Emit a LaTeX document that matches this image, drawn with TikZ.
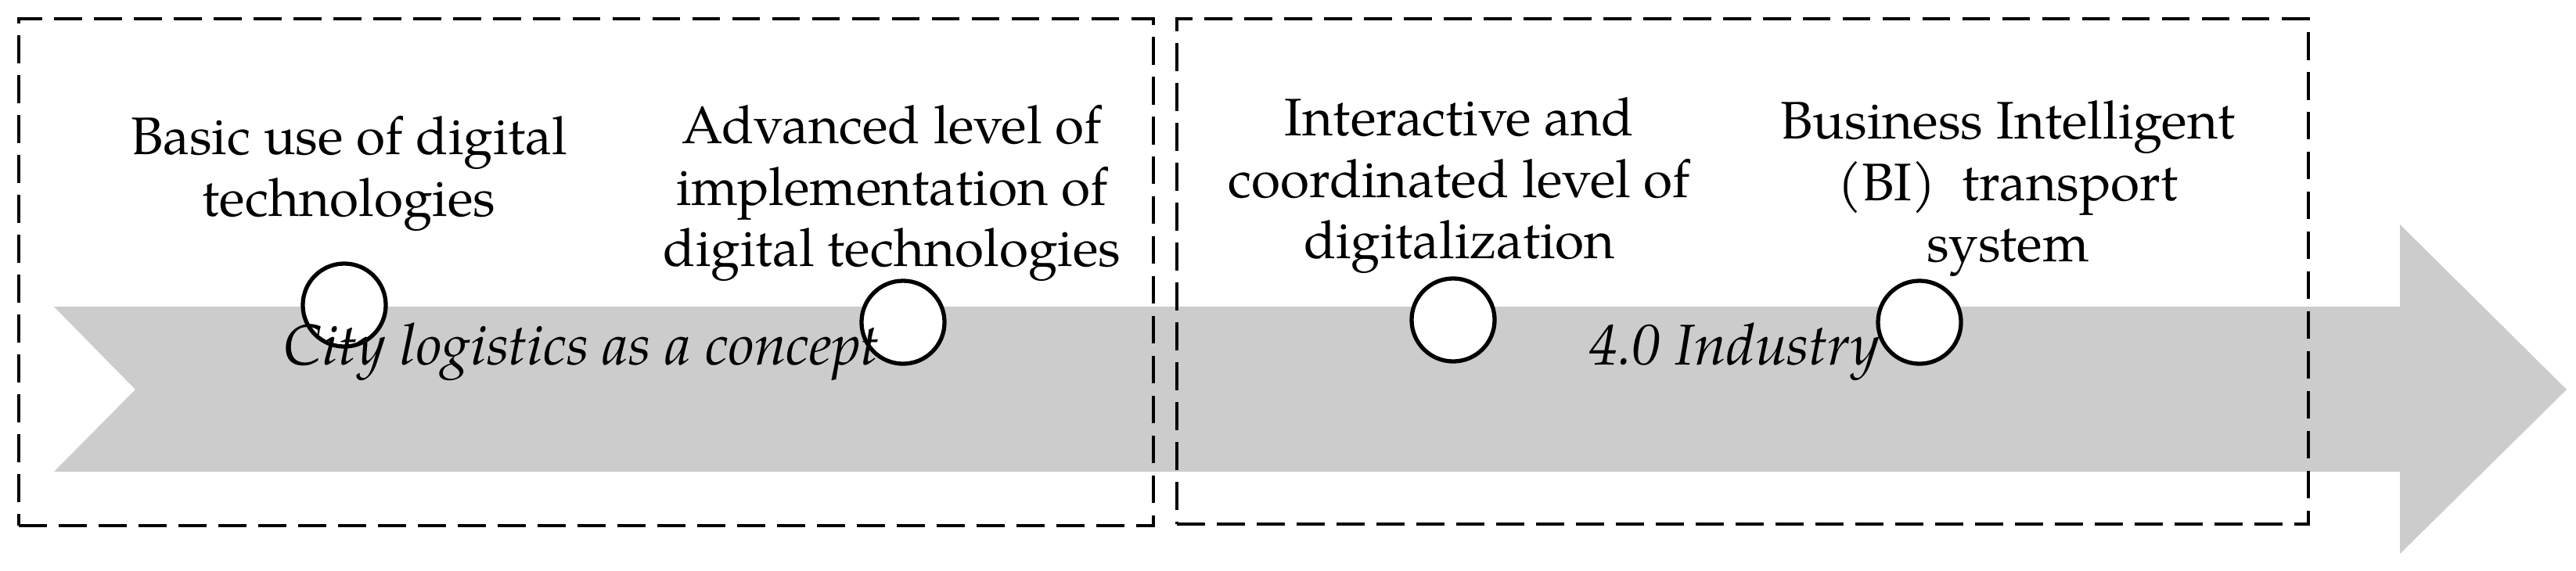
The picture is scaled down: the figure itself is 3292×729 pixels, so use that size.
\documentclass[tikz,border=0pt]{standalone}
\usepackage{fontspec}
\setmainfont{TeX Gyre Pagella}
\begin{document}
\begin{tikzpicture}[x=0.01cm,y=-0.01cm,
  boxstyle/.style={draw=black,line width=1.1pt,dash pattern=on 10.2pt off 4.3pt},
  milestone/.style={circle,draw=black,fill=white,line width=1.5pt,minimum size=1.06cm,inner sep=0pt},
  label/.style={align=center,inner sep=0pt,anchor=north,font=\fontsize{19.2}{22.3}\selectfont},
  phase/.style={inner sep=0pt,anchor=base west,font=\fontsize{20.9}{22}\selectfont\itshape}]
\useasboundingbox (0,0) rectangle (3292,729);
\fill[white] (0,0) rectangle (3292,729);
% big arrow
\fill[gray!40] (69,392) -- (3067,392) -- (3067,287) -- (3280,498) -- (3067,708) -- (3067,603) -- (69,603) -- (173,498) -- cycle;
% dashed boxes
\node[boxstyle,minimum width=14.49cm,minimum height=6.48cm,anchor=north west] (boxA) at (22,22) {};
\node[boxstyle,minimum width=14.45cm,minimum height=6.46cm,anchor=north west] (boxB) at (1502,22) {};
% circles
\node[milestone] (c1) at (440,390) {};
\node[milestone] (c2) at (1154,412) {};
\node[milestone] (c3) at (1857,409) {};
\node[milestone] (c4) at (2453,412) {};
% labels
\node[label] (t1) at (446,148) {Basic use of digital\\technologies};
\node[label] (t2) at (1140,134) {Advanced level of\\implementation of\\digital technologies};
\node[label] (t3) at (1865,124) {Interactive and\\coordinated level of\\digitalization};
\node[label] (t4) at (2566,128) {Business Intelligent\\(BI)\ \ transport\\system};
\node[phase] (p1) at (362,466) {City logistics as a concept};
\node[phase] (p2) at (2030,466) {4.0 Industry};
\end{tikzpicture}
\end{document}
